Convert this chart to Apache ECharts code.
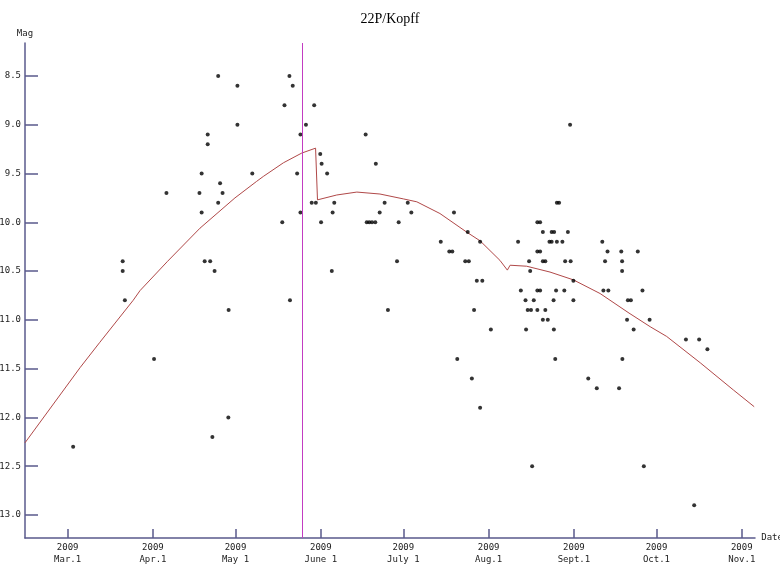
<!DOCTYPE html>
<html>
<head>
<meta charset="utf-8">
<script src="https://cdn.jsdelivr.net/npm/echarts@6/dist/echarts.min.js"></script>
<style>html,body{margin:0;padding:0;background:#fff}#c{width:780px;height:565px}</style>
</head>
<body>
<div id="c"></div>
<script>
// Days counted from 2009 Mar 1 (day 0)
const tickDays = [0, 31, 61, 92, 122, 153, 184, 214, 245];
const tickLabels = ['2009\nMar.1', '2009\nApr.1', '2009\nMay 1', '2009\nJune 1', '2009\nJuly 1', '2009\nAug.1', '2009\nSept.1', '2009\nOct.1', '2009\nNov.1'];
const magTicks = [8.5, 9.0, 9.5, 10.0, 10.5, 11.0, 11.5, 12.0, 12.5, 13.0];
const perihelionDay = 85.3;

const obsDay = [
  2.0, 20.0, 20.0, 20.8, 31.4, 35.9, 47.9, 48.7, 48.7, 49.8, 50.9, 50.9, 51.8, 52.6, 53.4,
  54.7, 54.7, 55.4, 56.3, 58.5, 58.4, 61.7, 61.7, 67.1, 78.0, 78.8, 80.6, 80.8, 81.8, 83.4,
  84.6, 84.6, 86.6, 88.7, 89.6, 90.2, 91.8, 92.3, 92.1, 94.3, 96.0, 96.3, 96.9,
  108.3, 108.7, 109.6, 110.6, 111.8, 112.0, 113.4, 115.2, 116.4, 119.7, 120.3, 123.6, 124.9,
  135.6, 138.7, 139.8, 140.4, 141.6, 144.5, 145.8, 145.4, 146.9, 147.7, 148.7, 150.7, 149.9, 149.9, 153.8,
  163.7, 164.7, 166.4, 166.6, 167.2, 167.7, 168.1, 168.4, 168.8, 169.4,
  170.7, 171.7, 170.7, 171.7, 170.7, 171.7, 170.7, 172.7, 172.7, 173.6, 172.7, 174.5, 173.6,
  175.1, 175.9, 175.9, 176.8, 176.6, 176.7, 177.2, 177.5, 177.8, 178.6, 177.8, 179.8,
  180.5, 180.8, 182.8, 181.8, 182.6, 183.8, 183.8, 189.2, 192.3,
  194.3, 194.7, 196.5, 195.3, 196.2, 200.4, 201.2, 201.5, 201.5, 201.6, 203.3, 203.6, 204.7,
  205.7, 207.2, 208.9, 209.4, 211.5, 224.7, 227.7, 229.5, 232.5
];
const obsMag = [
  12.3, 10.4, 10.5, 10.8, 11.4, 9.7, 9.7, 9.5, 9.9, 10.4, 9.1, 9.2, 10.4, 12.2, 10.5,
  8.5, 9.8, 9.6, 9.7, 10.9, 12.0, 8.6, 9.0, 9.5, 10.0, 8.8, 8.5, 10.8, 8.6, 9.5,
  9.1, 9.9, 9.0, 9.8, 8.8, 9.8, 9.3, 9.4, 10.0, 9.5, 10.5, 9.9, 9.8,
  9.1, 10.0, 10.0, 10.0, 10.0, 9.4, 9.9, 9.8, 10.9, 10.4, 10.0, 9.8, 9.9,
  10.2, 10.3, 10.3, 9.9, 11.4, 10.4, 10.4, 10.1, 11.6, 10.9, 10.6, 10.6, 10.2, 11.9, 11.1,
  10.2, 10.7, 10.8, 11.1, 10.9, 10.4, 10.5, 10.9, 12.5, 10.8,
  10.0, 10.0, 10.3, 10.3, 10.7, 10.7, 10.9, 10.1, 10.4, 10.4, 11.0, 11.0, 10.9,
  10.2, 10.2, 10.1, 10.1, 10.8, 11.1, 11.4, 10.7, 9.8, 9.8, 10.2, 10.2,
  10.7, 10.4, 10.4, 10.1, 9.0, 10.6, 10.8, 11.6, 11.7,
  10.2, 10.7, 10.7, 10.4, 10.3, 11.7, 10.3, 10.4, 10.5, 11.4, 11.0, 10.8, 10.8,
  11.1, 10.3, 10.7, 12.5, 11.0, 11.2, 12.9, 11.2, 11.3
];

// Model light curve (pre- and post-perihelion branches)
const curveDay = [-15.5, 4.5, 11.7, 23.8, 26.3, 36.3, 48.1, 60.8, 68.7, 71.1, 78.4, 85.1, 90.1,
  90.8, 97.8, 105.1, 113.5, 122.0, 126.9, 135.3, 145.0, 149.9, 157.1, 159.8, 160.8, 166.8, 175.3,
  183.8, 193.5, 204.0, 211.7, 217.7, 229.9, 242.0, 249.5];
const curveMag = [12.26, 11.49, 11.23, 10.80, 10.70, 10.40, 10.06, 9.75, 9.58, 9.53, 9.39, 9.29, 9.24,
  9.77, 9.72, 9.69, 9.71, 9.76, 9.79, 9.91, 10.10, 10.19, 10.39, 10.49, 10.44, 10.45, 10.51,
  10.59, 10.73, 10.93, 11.07, 11.17, 11.44, 11.72, 11.89];

const chart = echarts.init(document.getElementById('c'), null, {renderer: 'canvas'});
const axisColor = '#5a5a8c';
const monoFont = 'DejaVu Sans Mono';
chart.setOption({
  animation: false,
  backgroundColor: '#fff',
  title: {
    text: '22P/Kopff', left: 'center', top: 7,
    textStyle: {fontFamily: 'Liberation Serif', fontSize: 14, fontWeight: 'normal', color: '#000'}
  },
  grid: {left: 25, right: 25, top: 43, bottom: 27, containLabel: false, outerBoundsMode: 'none'},
  xAxis: {
    type: 'value', min: -15.5, max: 249.8,
    name: 'Date', nameLocation: 'end', nameGap: 4,
    nameTextStyle: {fontFamily: monoFont, fontSize: 9, color: '#222', align: 'left', verticalAlign: 'middle'},
    axisLine: {onZero: false, lineStyle: {color: axisColor, width: 1.5}},
    axisTick: {inside: true, length: 9, customValues: tickDays, lineStyle: {color: axisColor, width: 1.5}},
    axisLabel: {
      customValues: tickDays, margin: 4,
      formatter: v => tickLabels[tickDays.indexOf(v)] || '',
      fontFamily: monoFont, fontSize: 9, lineHeight: 12, color: '#222'
    },
    splitLine: {show: false}
  },
  yAxis: {
    type: 'value', inverse: true, min: 8.162, max: 13.236,
    name: 'Mag', nameLocation: 'start', nameGap: 5,
    nameTextStyle: {fontFamily: monoFont, fontSize: 9, color: '#222', align: 'center'},
    axisLine: {onZero: false, lineStyle: {color: axisColor, width: 1.5}},
    axisTick: {inside: true, length: 13, customValues: magTicks, lineStyle: {color: axisColor, width: 1.5}},
    axisLabel: {
      customValues: magTicks, margin: 4,
      formatter: v => Number(v).toFixed(1),
      fontFamily: monoFont, fontSize: 9, color: '#222'
    },
    splitLine: {show: false}
  },
  series: [
    {
      type: 'line',
      data: curveDay.map((d, i) => [d, curveMag[i]]),
      showSymbol: false, symbol: 'none', smooth: false,
      lineStyle: {color: '#b04848', width: 1},
      z: 2,
      markLine: {
        silent: true, symbol: 'none',
        label: {show: false},
        lineStyle: {color: '#c23cc2', width: 1, type: 'solid'},
        data: [{xAxis: perihelionDay}]
      }
    },
    {
      type: 'scatter',
      data: obsDay.map((d, i) => [d, obsMag[i]]),
      symbol: 'circle', symbolSize: 4,
      itemStyle: {color: '#000'},
      z: 3
    }
  ]
});
</script>
</body>
</html>
